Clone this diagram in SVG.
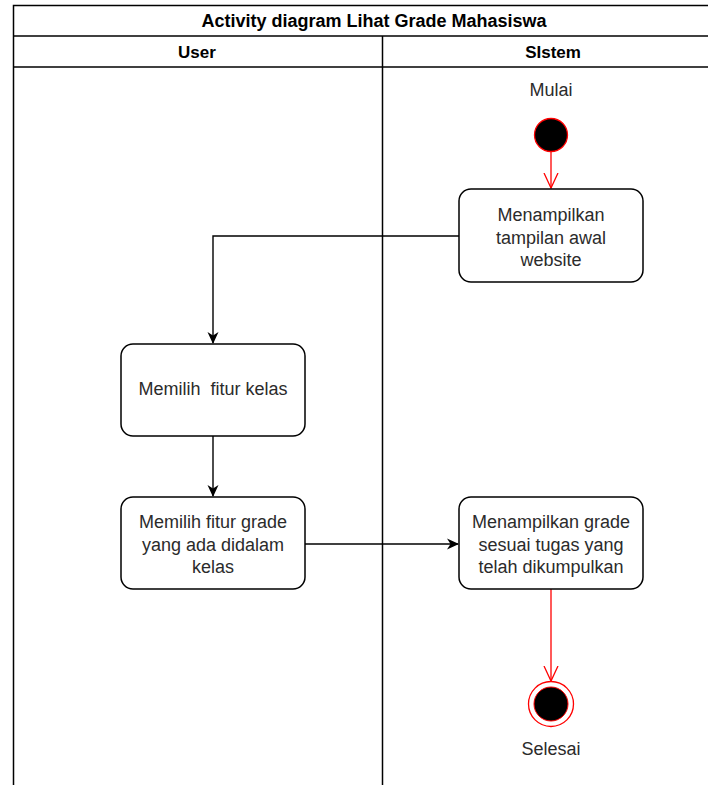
<svg xmlns="http://www.w3.org/2000/svg" width="708" height="785" viewBox="0 0 708 785">
  <style>
    .lane { fill: none; stroke: #000; stroke-width: 1.5; }
    .hdr { font-family: "Liberation Sans", Arial, sans-serif; font-size: 17px; font-weight: bold; fill: #000; text-anchor: middle; }
    .title { font-size: 18px; }
    .act { fill: #fff; stroke: #000; stroke-width: 1.5; }
    .lbl { font-family: "Liberation Sans", Arial, sans-serif; font-size: 18px; fill: #2b2b2b; text-anchor: middle; }
    .flow { fill: none; stroke: #000; stroke-width: 1.4; }
    .rflow { fill: none; stroke: #ff0000; stroke-width: 1.3; }
  </style>
  <defs>
    <marker id="arrowBlack" viewBox="0 0 12 12" refX="11" refY="6" markerWidth="12" markerHeight="12" markerUnits="userSpaceOnUse" orient="auto">
      <path d="M0,0.5 L12,6 L0,11.5 L3.5,6 Z" fill="#000"/>
    </marker>
    <marker id="arrowOpenRed" viewBox="0 0 16 16" refX="15" refY="8" markerWidth="16" markerHeight="16" markerUnits="userSpaceOnUse" orient="auto">
      <path d="M0,1 L15,8 L0,15" fill="none" stroke="#ff0000" stroke-width="1.3"/>
    </marker>
  </defs>
  <rect width="708" height="785" fill="#fff"/>

  <!-- swimlane pool -->
  <g id="pool">
    <rect class="lane" x="13.5" y="5.5" width="720" height="800"/>
    <line class="lane" x1="13.5" y1="36" x2="733.5" y2="36"/>
    <line class="lane" x1="13.5" y1="67" x2="733.5" y2="67"/>
    <line class="lane" x1="382.5" y1="36" x2="382.5" y2="805"/>
    <text class="hdr title" x="374" y="27">Activity diagram Lihat Grade Mahasiswa</text>
    <text class="hdr" x="197" y="58">User</text>
    <text class="hdr" x="553" y="58">SIstem</text>
  </g>

  <!-- connectors -->
  <g id="connectors">
    <line class="rflow" x1="551" y1="152" x2="551" y2="188" marker-end="url(#arrowOpenRed)"/>
    <polyline class="flow" points="459,236 213,236 213,343" marker-end="url(#arrowBlack)"/>
    <line class="flow" x1="213" y1="436" x2="213" y2="496" marker-end="url(#arrowBlack)"/>
    <line class="flow" x1="305" y1="544" x2="458" y2="544" marker-end="url(#arrowBlack)"/>
    <line class="rflow" x1="551" y1="589" x2="551" y2="681" marker-end="url(#arrowOpenRed)"/>
  </g>

  <!-- start node -->
  <g id="start">
    <text class="lbl" x="551" y="96">Mulai</text>
    <circle cx="551" cy="135" r="16.5" fill="#000" stroke="#ff0000" stroke-width="1.3"/>
  </g>

  <g id="tampilanAwal">
    <rect class="act" x="459" y="189" width="184" height="93" rx="12"/>
    <text class="lbl" x="551" y="221">Menampilkan</text>
    <text class="lbl" x="551" y="244">tampilan awal</text>
    <text class="lbl" x="551" y="266">website</text>
  </g>

  <g id="pilihKelas">
    <rect class="act" x="121" y="344" width="184" height="92" rx="12"/>
    <text class="lbl" x="213" y="395" xml:space="preserve">Memilih  fitur kelas</text>
  </g>

  <g id="pilihGrade">
    <rect class="act" x="121" y="497" width="184" height="92" rx="12"/>
    <text class="lbl" x="213" y="528">Memilih fitur grade</text>
    <text class="lbl" x="213" y="551">yang ada didalam</text>
    <text class="lbl" x="213" y="573">kelas</text>
  </g>

  <g id="tampilGrade">
    <rect class="act" x="459" y="497" width="184" height="92" rx="12"/>
    <text class="lbl" x="551" y="528">Menampilkan grade</text>
    <text class="lbl" x="551" y="551">sesuai tugas yang</text>
    <text class="lbl" x="551" y="573">telah dikumpulkan</text>
  </g>

  <!-- end node -->
  <g id="end">
    <circle cx="551" cy="704" r="22.5" fill="#fff" stroke="#ff0000" stroke-width="1.3"/>
    <circle cx="551" cy="704" r="17" fill="#000" stroke="#ff0000" stroke-width="1"/>
    <text class="lbl" x="551" y="755">Selesai</text>
  </g>
</svg>
